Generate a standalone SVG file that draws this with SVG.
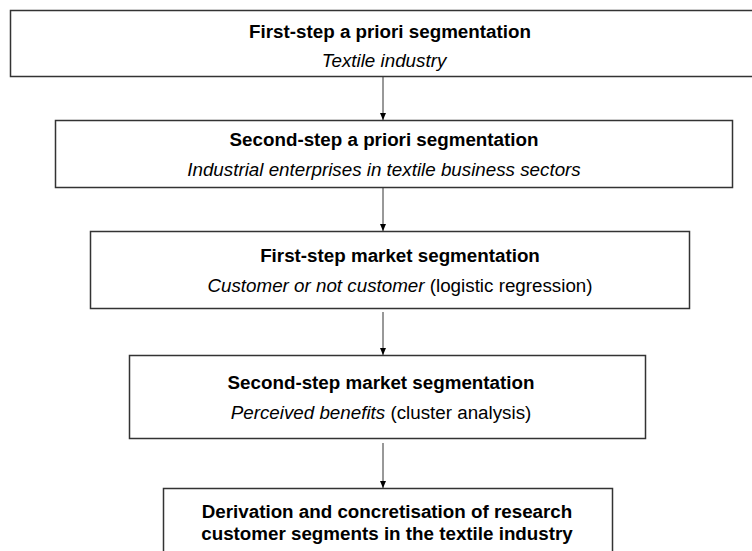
<svg xmlns="http://www.w3.org/2000/svg" width="752" height="551" viewBox="0 0 752 551">
<defs>
<style>
.box{fill:#fff;stroke:#333;stroke-width:1.5}
.t{font-family:"Liberation Sans",Arial,sans-serif;font-size:18.8px;fill:#000;text-anchor:middle}
.b{font-weight:bold}
.i{font-style:italic}
.c{stroke:#333;stroke-width:1;fill:none;marker-end:url(#ah)}
</style>
<marker id="ah" markerWidth="7" markerHeight="6" refX="7" refY="3" orient="auto" markerUnits="userSpaceOnUse" viewBox="0 0 7 6">
<path d="M0,0 L7,3 L0,6 Z" fill="#000"/>
</marker>
</defs>
<rect width="752" height="551" fill="#fff"/>
<g id="connectors">
<line class="c" x1="383" y1="77" x2="383" y2="120"/>
<line class="c" x1="383" y1="188" x2="383" y2="231"/>
<line class="c" x1="383" y1="312" x2="383" y2="355"/>
<line class="c" x1="383" y1="443" x2="383" y2="488"/>
</g>
<g id="n1">
<rect class="box" x="10.5" y="10.5" width="760" height="66"/>
<text class="t b" x="390" y="38">First-step a priori segmentation</text>
<text class="t i" x="384" y="67">Textile industry</text>
</g>
<g id="n2">
<rect class="box" x="55.5" y="120.5" width="677" height="67"/>
<text class="t b" x="384" y="146">Second-step a priori segmentation</text>
<text class="t i" x="384" y="176">Industrial enterprises in textile business sectors</text>
</g>
<g id="n3">
<rect class="box" x="90.5" y="231.5" width="599" height="77"/>
<text class="t b" x="400" y="262">First-step market segmentation</text>
<text class="t" x="400" y="292"><tspan class="i">Customer or not customer</tspan> (logistic regression)</text>
</g>
<g id="n4">
<rect class="box" x="129.5" y="355.5" width="516" height="83"/>
<text class="t b" x="381" y="389">Second-step market segmentation</text>
<text class="t" x="381" y="419"><tspan class="i">Perceived benefits</tspan> (cluster analysis)</text>
</g>
<g id="n5">
<rect class="box" x="163.5" y="488.5" width="449" height="80"/>
<text class="t b" x="387" y="518">Derivation and concretisation of research</text>
<text class="t b" x="387" y="540">customer segments in the textile industry</text>
</g>
</svg>
